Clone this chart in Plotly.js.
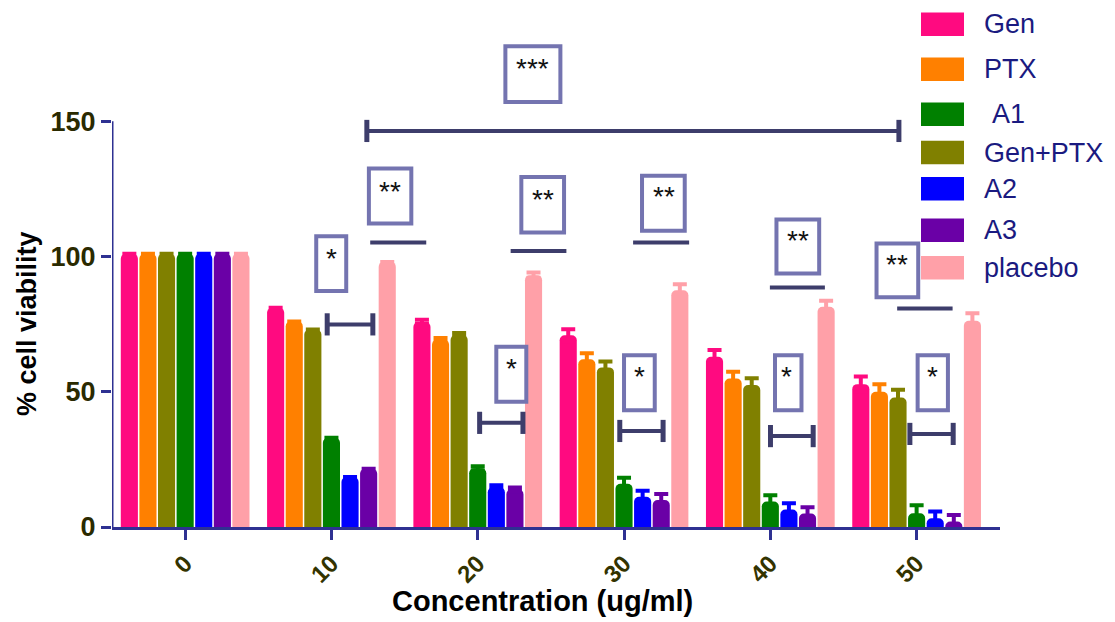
<!DOCTYPE html>
<html>
<head>
<meta charset="utf-8">
<script src="https://cdn.plot.ly/plotly-3.0.1.min.js"></script>
<style>
  html, body { margin: 0; padding: 0; background: #ffffff; }
  #chart { width: 1115px; height: 622px; }
</style>
</head>
<body>
<div id="chart"></div>
<script>
// Concentrations on the x axis
const concentrations = ['0', '10', '20', '30', '40', '50'];

// Mean % cell viability per treatment (bar order within each group)
const genViability     = [101, 81.0, 75.8, 70.9, 62.9, 52.8];
const ptxViability     = [101, 76.0, 69.2, 62.0, 54.9, 50.0];
const genPtxViability  = [101, 73.0, 71.0, 59.0, 52.5, 47.9];
const a1Viability      = [101, 33.0, 21.7, 16.0,  9.4,  5.1];
const a2Viability      = [101, 18.5, 14.7, 11.2,  6.5,  3.2];
const a3Viability      = [101, 21.5, 13.9, 10.0,  5.0,  2.0];
const placeboViability = [101, 98.0, 93.1, 87.5, 81.4, 76.2];

// Standard deviations (none shown for the first two concentrations)
const genSd     = [null, null, 0.8, 2.2, 2.5, 2.8];
const ptxSd     = [null, null, 0.7, 2.2, 2.5, 2.8];
const genPtxSd  = [null, null, 0.7, 2.2, 2.5, 2.8];
const a1Sd      = [null, null, 0.8, 2.2, 2.3, 2.9];
const a2Sd      = [null, null, 0.7, 2.2, 2.3, 2.5];
const a3Sd      = [null, null, 0.7, 2.2, 2.3, 2.4];
const placeboSd = [null, null, 1.0, 2.2, 2.2, 2.8];

// Legend labels in the order they are listed on the right
const legendLabels = ['Gen', 'PTX', 'A1', 'Gen+PTX', 'A2', 'A3', 'placebo'];

const colors = {
  'Gen': '#ff0a80',
  'PTX': '#ff8000',
  'Gen+PTX': '#808000',
  'A1': '#008000',
  'A2': '#0000ff',
  'A3': '#6a00a6',
  'placebo': '#ffa0a8'
};

const series = [
  { name: 'Gen', y: genViability, sd: genSd },
  { name: 'PTX', y: ptxViability, sd: ptxSd },
  { name: 'Gen+PTX', y: genPtxViability, sd: genPtxSd },
  { name: 'A1', y: a1Viability, sd: a1Sd },
  { name: 'A2', y: a2Viability, sd: a2Sd },
  { name: 'A3', y: a3Viability, sd: a3Sd },
  { name: 'placebo', y: placeboViability, sd: placeboSd }
];

const traces = series.map(s => ({
  type: 'bar',
  name: s.name,
  x: concentrations,
  y: s.y,
  marker: { color: colors[s.name], line: { width: 0 } },
  error_y: { type: 'data', array: s.sd, visible: true, color: colors[s.name], thickness: 4, width: 7 },
  showlegend: false,
  hoverinfo: 'x+y+name'
}));

// Plot frame in pixels
const M = { l: 112, r: 115, t: 13, b: 95 };
const W = 1115, H = 622;
const plotW = W - M.l - M.r, plotH = H - M.t - M.b;
const px2paperX = px => (px - M.l) / plotW;
const px2paperY = py => (H - M.b - py) / plotH;

const axisColor = '#2e3192';
const bracketColor = '#3d3d6b';
const boxColor = '#7474b0';
const font = 'Liberation Sans, Arial, sans-serif';

const shapes = [];
const annotations = [];

// y axis spine, only from 0 to 150
shapes.push({ type: 'line', xref: 'x', yref: 'y', x0: -0.5, x1: -0.5, y0: 0, y1: 150,
  line: { color: axisColor, width: 3 }, layer: 'above' });

// significance boxes with stars
const starBoxes = [
  { x0: 2.189, x1: 2.565, y0: 157.1, y1: 177.7, tx: 2.376, ty: 169.6, label: '***' },
  { x0: 0.896, x1: 1.101, y0: 87.2, y1: 107.5, tx: 0.999, ty: 99.4, label: '*' },
  { x0: 1.256, x1: 1.546, y0: 112.2, y1: 132.5, tx: 1.401, ty: 124.2, label: '**' },
  { x0: 2.298, x1: 2.590, y0: 108.9, y1: 129.4, tx: 2.444, ty: 121.2, label: '**' },
  { x0: 2.127, x1: 2.332, y0: 46.3, y1: 66.6, tx: 2.230, ty: 58.6, label: '*' },
  { x0: 3.123, x1: 3.415, y0: 109.5, y1: 129.8, tx: 3.270, ty: 122.0, label: '**' },
  { x0: 3.000, x1: 3.210, y0: 43.2, y1: 63.5, tx: 3.105, ty: 55.5, label: '*' },
  { x0: 4.042, x1: 4.334, y0: 93.7, y1: 113.7, tx: 4.188, ty: 106.0, label: '**' },
  { x0: 4.032, x1: 4.213, y0: 43.2, y1: 63.5, tx: 4.111, ty: 55.5, label: '*' },
  { x0: 4.726, x1: 5.011, y0: 84.9, y1: 104.8, tx: 4.869, ty: 97.2, label: '**' },
  { x0: 5.007, x1: 5.214, y0: 43.2, y1: 63.5, tx: 5.110, ty: 55.5, label: '*' }
];
starBoxes.forEach(b => {
  shapes.push({ type: 'rect', xref: 'x', yref: 'y', x0: b.x0, x1: b.x1, y0: b.y0, y1: b.y1,
    line: { color: boxColor, width: 4 }, fillcolor: 'rgba(255,255,255,0)', layer: 'above' });
  annotations.push({ xref: 'x', yref: 'y', x: b.tx, y: b.ty, text: b.label, showarrow: false,
    xanchor: 'center', yanchor: 'middle', font: { family: font, size: 28, color: '#111111' } });
});

// plain comparison lines
const plainLines = [
  { x0: 1.265, x1: 1.648, y: 105.2 },
  { x0: 2.225, x1: 2.606, y: 102.0 },
  { x0: 3.062, x1: 3.445, y: 105.2 },
  { x0: 3.997, x1: 4.373, y: 88.5 },
  { x0: 4.867, x1: 5.246, y: 80.8 }
];
plainLines.forEach(l => {
  shapes.push({ type: 'line', xref: 'x', yref: 'y', x0: l.x0, x1: l.x1, y0: l.y, y1: l.y,
    line: { color: bracketColor, width: 4 }, layer: 'above' });
});

// capped comparison brackets (cap half-height in axis units)
const cappedLines = [
  { x0: 1.242, x1: 4.879, y: 146.4, cap: 4.1 },
  { x0: 0.971, x1: 1.283, y: 74.9, cap: 4.1 },
  { x0: 2.013, x1: 2.309, y: 38.5, cap: 4.1 },
  { x0: 2.971, x1: 3.267, y: 35.5, cap: 4.1 },
  { x0: 4.001, x1: 4.293, y: 33.6, cap: 4.1 },
  { x0: 4.954, x1: 5.250, y: 34.4, cap: 4.1 }
];
cappedLines.forEach(l => {
  shapes.push({ type: 'line', xref: 'x', yref: 'y', x0: l.x0, x1: l.x1, y0: l.y, y1: l.y,
    line: { color: bracketColor, width: 4 }, layer: 'above' });
  [l.x0, l.x1].forEach(xc => shapes.push({ type: 'line', xref: 'x', yref: 'y', x0: xc, x1: xc,
    y0: l.y - l.cap, y1: l.y + l.cap, line: { color: bracketColor, width: 5 }, layer: 'above' }));
});

// legend on the right
const legendRowsY = [24.3, 69.2, 114.2, 152.5, 188.7, 230.3, 267.7];
const legendTextShift = { 'A1': 8 };
legendLabels.forEach((name, i) => {
  const cy = legendRowsY[i];
  shapes.push({ type: 'rect', xref: 'paper', yref: 'paper',
    x0: px2paperX(921), x1: px2paperX(964), y0: px2paperY(cy - 11.7), y1: px2paperY(cy + 11.7),
    fillcolor: colors[name], line: { width: 0 }, layer: 'above' });
  annotations.push({ xref: 'paper', yref: 'paper', x: px2paperX(982 + (legendTextShift[name] || 0)),
    y: px2paperY(cy), text: name, showarrow: false, xanchor: 'left', yanchor: 'middle',
    font: { family: font, size: 27, color: '#1a1a80' } });
});

// axis titles
annotations.push({ xref: 'paper', yref: 'y', x: px2paperX(27), y: 75, text: '<b>% cell viability</b>',
  textangle: -90, showarrow: false, xanchor: 'center', yanchor: 'middle',
  font: { family: font, size: 27, color: '#000000' } });
annotations.push({ xref: 'x', yref: 'paper', x: 2.44, y: px2paperY(601), text: '<b>Concentration (ug/ml)</b>',
  showarrow: false, xanchor: 'center', yanchor: 'middle',
  font: { family: font, size: 29, color: '#000000' } });

const layout = {
  width: W, height: H,
  margin: M,
  paper_bgcolor: '#ffffff',
  plot_bgcolor: '#ffffff',
  barmode: 'group',
  bargap: 0.11,
  bargroupgap: 0.08,
  barcornerradius: 5,
  showlegend: false,
  xaxis: {
    type: 'category',
    range: [-0.5, 5.57],
    showline: true, linecolor: axisColor, linewidth: 3,
    ticks: 'outside', ticklen: 10, tickwidth: 3, tickcolor: axisColor,
    tickangle: -45,
    tickfont: { family: font, size: 24, color: '#333300', weight: 'bold' },
    showgrid: false, zeroline: false, fixedrange: true
  },
  yaxis: {
    range: [0, 190],
    showline: false,
    tickvals: [0, 50, 100, 150], ticktext: ['0', '50', '100', '150'],
    ticks: 'outside', ticklen: 10, tickwidth: 3, tickcolor: axisColor,
    tickfont: { family: font, size: 27, color: '#2a2a00', weight: 'bold' },
    showgrid: false, zeroline: false, fixedrange: true
  },
  shapes: shapes,
  annotations: annotations
};

Plotly.newPlot('chart', traces, layout, { displayModeBar: false, staticPlot: true });
</script>
</body>
</html>
